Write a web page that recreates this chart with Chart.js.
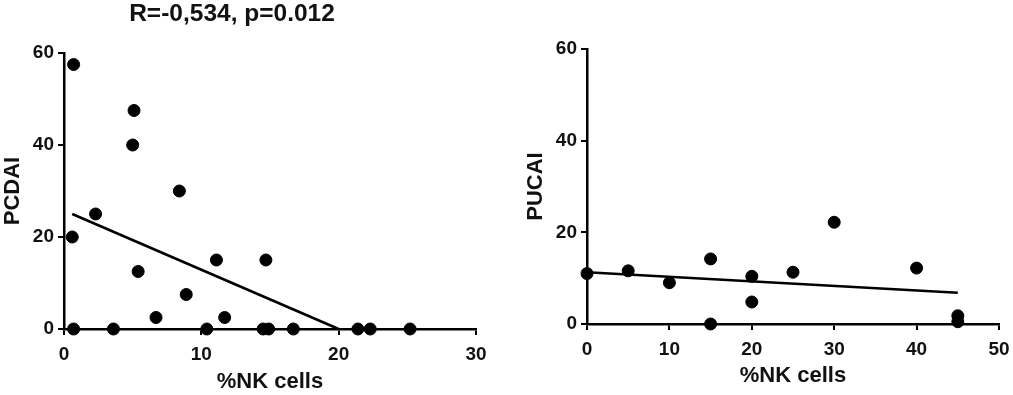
<!DOCTYPE html>
<html>
<head>
<meta charset="utf-8">
<script src="https://cdn.jsdelivr.net/npm/chart.js@4"></script>
<style>
  html, body { margin: 0; padding: 0; background: #fff; overflow: hidden; }
  body { width: 1013px; height: 395px; position: relative; }
  .box { position: absolute; top: 0; height: 395px; }
</style>
</head>
<body>
<div class="box" style="left:-35px;width:534px"><canvas id="pcdai"></canvas></div>
<div class="box" style="left:500px;width:520px"><canvas id="pucai"></canvas></div>
<script>
// PCDAI vs %NK cells (Crohn's)
const pcdaiNK = [0.7, 5.1, 5.0, 8.4, 2.3, 0.6, 11.1, 14.7, 5.4, 8.9, 6.7, 11.7, 0.7, 3.6, 10.4, 14.5, 14.9, 16.7, 21.4, 22.3, 25.2];
const pcdaiVals = [57.5, 47.5, 40, 30, 25, 20, 15, 15, 12.5, 7.5, 2.5, 2.5, 0, 0, 0, 0, 0, 0, 0, 0, 0];
const pcdaiFitX = [0.6, 20];
const pcdaiFitY = [25, 0];

// PUCAI vs %NK cells (UC)
const pucaiNK = [0, 5, 10, 15, 15, 20, 20, 25, 30, 40, 45, 45];
const pucaiVals = [11, 11.6, 9, 14.2, 0, 10.4, 4.8, 11.3, 22.2, 12.2, 1.8, 0.5];
const pucaiFitX = [0, 45];
const pucaiFitY = [11.3, 6.8];

const titleText = "R=-0,534, p=0.012";
const xTitle = "%NK cells";

const FONT = "'Liberation Sans', Arial, sans-serif";
Chart.defaults.font.family = FONT;
Chart.defaults.color = "#111";

function pts(xs, ys) {
  return xs.map((x, i) => ({ x: x, y: ys[i] }));
}

function axisCommon(extra) {
  return Object.assign({
    type: "linear",
    border: { display: true, color: "#000", width: 2.5 },
    grid: { display: true, drawOnChartArea: false, drawTicks: true, tickLength: 6, color: "#000", lineWidth: 2 },
  }, extra);
}

function makeChart(id, opts) {
  return new Chart(document.getElementById(id), {
    type: "scatter",
    data: {
      datasets: [
        {
          data: pts(opts.xs, opts.ys),
          pointRadius: 6,
          pointHoverRadius: 6,
          backgroundColor: "#000",
          borderColor: "#000",
          clip: false
        },
        {
          type: "line",
          data: pts(opts.fitX, opts.fitY),
          borderColor: "#000",
          borderWidth: 2.5,
          pointRadius: 0,
          fill: false,
          clip: false
        }
      ]
    },
    options: {
      responsive: true,
      maintainAspectRatio: false,
      animation: false,
      events: [],
      layout: { padding: opts.padding },
      plugins: {
        legend: { display: false },
        tooltip: { enabled: false },
        title: opts.title ? {
          display: true,
          text: opts.title,
          color: "#111",
          font: { size: 24.5, weight: "bold", lineHeight: 1 },
          padding: { top: 1.5, bottom: 27 }
        } : { display: false }
      },
      scales: {
        x: axisCommon({
          min: 0, max: opts.xMax,
          afterFit: s => { s.height = opts.xHeight; },
          ticks: { stepSize: 10, padding: 8, font: { size: 19, weight: "bold" }, maxRotation: 0 },
          title: { display: true, text: xTitle, font: { size: 22, weight: "bold" }, padding: { top: 0, bottom: 0 } }
        }),
        y: axisCommon({
          min: 0, max: 60,
          afterFit: s => { s.width = opts.yWidth; },
          ticks: { stepSize: 20, padding: 4, font: { size: 19, weight: "bold" } },
          title: { display: true, text: opts.yTitle, font: { size: 22, weight: "bold" }, padding: { top: opts.yTitlePad, bottom: 0 } }
        })
      }
    }
  });
}

makeChart("pcdai", {
  xs: pcdaiNK, ys: pcdaiVals, fitX: pcdaiFitX, fitY: pcdaiFitY,
  xMax: 30, yTitle: "PCDAI", title: titleText,
  xHeight: 66, yWidth: 76, yTitlePad: 12,
  padding: { left: 23, right: 23, top: 0, bottom: 0 }
});

makeChart("pucai", {
  xs: pucaiNK, ys: pucaiVals, fitX: pucaiFitX, fitY: pucaiFitY,
  xMax: 50, yTitle: "PUCAI", title: null,
  xHeight: 65, yWidth: 64, yTitlePad: 0,
  padding: { left: 23, right: 21, top: 49, bottom: 6 }
});
</script>
</body>
</html>
